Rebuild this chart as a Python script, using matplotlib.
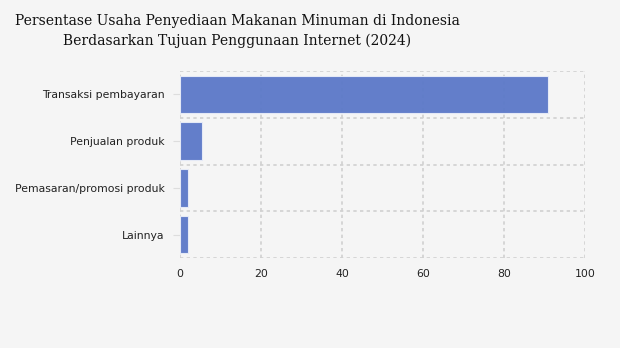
import matplotlib
matplotlib.use("Agg")
import matplotlib.pyplot as plt
import numpy as np

categories = ["Transaksi pembayaran", "Penjualan produk", "Pemasaran/promosi produk", "Lainnya"]
values = [90.9, 5.5, 2.0, 2.0]
xticks = [0, 20, 40, 60, 80, 100]

bg = "#f5f5f5"
fig = plt.figure(figsize=(6.2, 3.48), dpi=100, facecolor=bg)
ax = fig.add_axes([180/620, 1-258/348, (585-180)/620, (258-71)/348], facecolor=bg)

y = np.arange(len(categories))
ax.barh(y, values, height=0.8, color="#5b78c8", alpha=0.95, edgecolor="#e8ecf8", linewidth=0.8, zorder=3)
ax.set_ylim(len(categories)-0.5, -0.5)
ax.set_xlim(0, 100)
ax.set_xticks(xticks)
ax.set_xticklabels([str(t) for t in xticks])
ax.set_yticks(y)
ax.set_yticklabels(categories)

# grid
for t in xticks:
    ax.axvline(t, color="#d0d0d0", linestyle=(0, (2, 2)), linewidth=1.2, zorder=1)
for b in np.arange(-0.5, len(categories), 1.0):
    ax.axhline(b, color="#d0d0d0", linestyle=(0, (2, 2)), linewidth=1.2, zorder=1)

for s in ax.spines.values():
    s.set_visible(False)
ax.tick_params(axis="x", length=0, pad=8, labelsize=7.8, labelcolor="#222222")
ax.tick_params(axis="y", length=5, color="#dddddd", pad=6, labelsize=7.8, labelcolor="#222222")

fig.text(237/620, 1-31/348, "Persentase Usaha Penyediaan Makanan Minuman di Indonesia\nBerdasarkan Tujuan Penggunaan Internet (2024)",
         ha="center", va="center", fontsize=10, family="DejaVu Serif",
         color="#111111", linespacing=1.5)

fig.savefig("out.png", dpi=100, facecolor=bg)
